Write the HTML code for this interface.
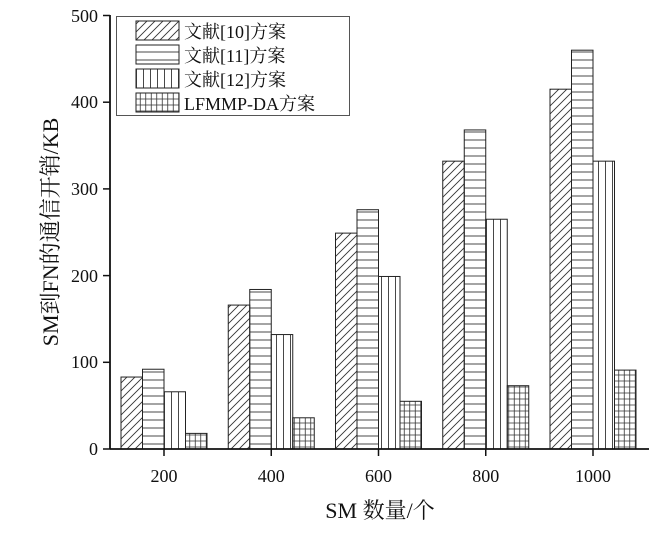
<!DOCTYPE html>
<html><head><meta charset="utf-8"><style>
body{margin:0;background:#fff}
svg{display:block}
text{font-family:"Liberation Serif","Noto Serif CJK SC",serif;fill:#111}
</style></head><body>
<svg width="671" height="534" viewBox="0 0 671 534" xmlns="http://www.w3.org/2000/svg">
<defs>
<pattern id="p1" width="8" height="8" patternUnits="userSpaceOnUse"><path d="M-2,10 L10,-2 M-2,2 L2,-2 M6,10 L10,6" stroke="#333" stroke-width="0.9"/></pattern>
<pattern id="p2" width="8" height="8" patternUnits="userSpaceOnUse"><path d="M0,4 H8" stroke="#333" stroke-width="0.9"/></pattern>
<pattern id="p3" width="7" height="7" patternUnits="userSpaceOnUse"><path d="M3.5,0 V7" stroke="#333" stroke-width="0.9"/></pattern>
<pattern id="p4" width="5.5" height="6" patternUnits="userSpaceOnUse"><path d="M2.75,0 V6 M0,3 H5.5" stroke="#333" stroke-width="0.8"/></pattern>
</defs>
<g stroke="#222" stroke-width="1">
<rect x="121" y="377.04" width="21.5" height="71.96" fill="url(#p1)"/>
<rect x="142.5" y="369.24" width="21.5" height="79.76" fill="url(#p2)"/>
<rect x="164" y="391.78" width="21.5" height="57.22" fill="url(#p3)"/>
<rect x="185.5" y="433.39" width="21.5" height="15.61" fill="url(#p4)"/>
<rect x="228.25" y="305.08" width="21.5" height="143.92" fill="url(#p1)"/>
<rect x="249.75" y="289.47" width="21.5" height="159.53" fill="url(#p2)"/>
<rect x="271.25" y="334.56" width="21.5" height="114.44" fill="url(#p3)"/>
<rect x="292.75" y="417.79" width="21.5" height="31.21" fill="url(#p4)"/>
<rect x="335.5" y="233.12" width="21.5" height="215.88" fill="url(#p1)"/>
<rect x="357" y="209.71" width="21.5" height="239.29" fill="url(#p2)"/>
<rect x="378.5" y="276.47" width="21.5" height="172.53" fill="url(#p3)"/>
<rect x="400" y="401.31" width="21.5" height="47.69" fill="url(#p4)"/>
<rect x="442.75" y="161.16" width="21.5" height="287.84" fill="url(#p1)"/>
<rect x="464.25" y="129.94" width="21.5" height="319.06" fill="url(#p2)"/>
<rect x="485.75" y="219.24" width="21.5" height="229.76" fill="url(#p3)"/>
<rect x="507.25" y="385.71" width="21.5" height="63.29" fill="url(#p4)"/>
<rect x="550" y="89.19" width="21.5" height="359.81" fill="url(#p1)"/>
<rect x="571.5" y="50.18" width="21.5" height="398.82" fill="url(#p2)"/>
<rect x="593" y="161.16" width="21.5" height="287.84" fill="url(#p3)"/>
<rect x="614.5" y="370.1" width="21.5" height="78.9" fill="url(#p4)"/>
</g>
<line x1="110" y1="449" x2="649" y2="449" stroke="#111" stroke-width="1.8"/>
<line x1="110" y1="15" x2="110" y2="449" stroke="#111" stroke-width="1.8"/>
<g stroke="#111" stroke-width="1.5">
<line x1="103" y1="449" x2="110" y2="449"/><line x1="103" y1="362.3" x2="110" y2="362.3"/><line x1="103" y1="275.6" x2="110" y2="275.6"/><line x1="103" y1="188.9" x2="110" y2="188.9"/><line x1="103" y1="102.2" x2="110" y2="102.2"/><line x1="103" y1="15.5" x2="110" y2="15.5"/>
<line x1="164" y1="449" x2="164" y2="456"/><line x1="271.25" y1="449" x2="271.25" y2="456"/><line x1="378.5" y1="449" x2="378.5" y2="456"/><line x1="485.75" y1="449" x2="485.75" y2="456"/><line x1="593" y1="449" x2="593" y2="456"/>
</g>
<g font-size="18" text-anchor="end">
<text x="98" y="455">0</text><text x="98" y="368">100</text><text x="98" y="282">200</text><text x="98" y="195">300</text><text x="98" y="108">400</text><text x="98" y="22">500</text>
</g>
<g font-size="18" text-anchor="middle">
<text x="164" y="482">200</text><text x="271.25" y="482">400</text><text x="378.5" y="482">600</text><text x="485.75" y="482">800</text><text x="593" y="482">1000</text>
</g>
<text x="380" y="518" font-size="22" text-anchor="middle">SM 数量/个</text>
<text transform="translate(58,232) rotate(-90)" font-size="22" text-anchor="middle">SM到FN的通信开销/KB</text>
<rect x="116.5" y="16.5" width="233" height="99" fill="#fff" stroke="#555" stroke-width="1"/>
<g stroke="#222" stroke-width="1">
<rect x="136" y="21" width="43" height="19" fill="url(#p1)"/>
<rect x="136" y="45" width="43" height="19" fill="url(#p2)"/>
<rect x="136" y="69" width="43" height="19" fill="url(#p3)"/>
<rect x="136" y="93" width="43" height="19" fill="url(#p4)"/>
</g>
<g font-size="18">
<text x="184" y="38">文献[10]方案</text><text x="184" y="62">文献[11]方案</text><text x="184" y="86">文献[12]方案</text><text x="184" y="110">LFMMP-DA方案</text>
</g>
</svg>
</body></html>
